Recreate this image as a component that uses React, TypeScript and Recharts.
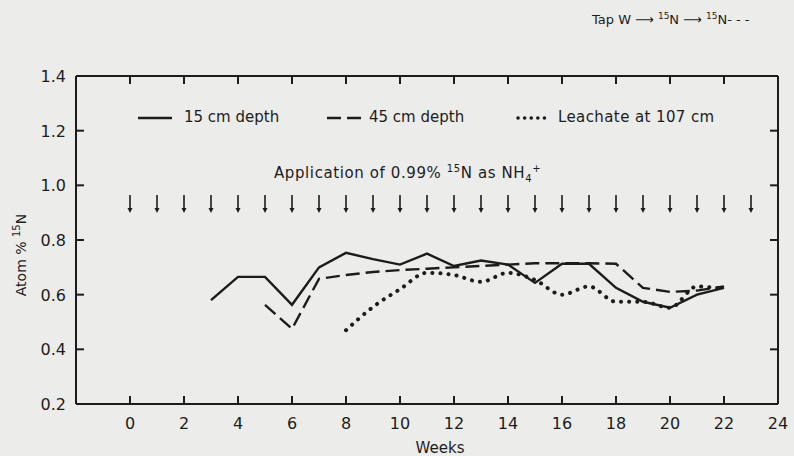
import { ComposedChart, Line, Scatter, XAxis, YAxis } from "recharts";

const FONT = "'DejaVu Sans', sans-serif";
const INK = "#1c1c1c";

// weeks & atom % 15N
const solidWeeks = [3, 4, 5, 6, 7, 8, 9, 10, 11, 12, 13, 14, 15, 16, 17, 18, 19, 20, 21, 22];
const solidValues = [0.58, 0.665, 0.665, 0.563, 0.7, 0.753, 0.73, 0.71, 0.75, 0.705, 0.725, 0.71, 0.643, 0.713, 0.713, 0.625, 0.574, 0.552, 0.6, 0.625];

const dashedWeeks = [5, 6, 7, 8, 9, 10, 11, 12, 13, 14, 15, 16, 17, 18, 19, 20, 21, 22];
const dashedValues = [0.563, 0.475, 0.658, 0.672, 0.683, 0.69, 0.695, 0.7, 0.705, 0.71, 0.715, 0.715, 0.715, 0.713, 0.625, 0.61, 0.615, 0.63];

const dottedWeeks = [8, 9, 10, 11, 12, 13, 14, 15, 16, 17, 18, 19, 20, 21, 22];
const dottedValues = [0.47, 0.555, 0.62, 0.68, 0.672, 0.647, 0.68, 0.654, 0.6, 0.63, 0.574, 0.574, 0.552, 0.63, 0.62];

// weekly 15N applications (arrows)
const applicationWeeks = [0, 1, 2, 3, 4, 5, 6, 7, 8, 9, 10, 11, 12, 13, 14, 15, 16, 17, 18, 19, 20, 21, 22, 23];
const arrowLevel = 0.965;

const xTicks = [0, 2, 4, 6, 8, 10, 12, 14, 16, 18, 20, 22, 24];
const yTicks = [0.2, 0.4, 0.6, 0.8, 1.0, 1.2, 1.4];

const toPoints = (weeks: number[], values: number[]) =>
  weeks.map((week, i) => ({ week, value: values[i] }));

const solid = toPoints(solidWeeks, solidValues);
const dashed = toPoints(dashedWeeks, dashedValues);
const dotted = toPoints(dottedWeeks, dottedValues);
const arrows = applicationWeeks.map((week) => ({ week, value: arrowLevel }));

const TICK_MARGIN = 8;
const TICK_LEN = 8;

function BottomTick(props: any) {
  const { x, y, payload } = props;
  const axisY = y - TICK_MARGIN;
  return (
    <g>
      {payload.value < 24 && (
        <line x1={x} x2={x} y1={axisY} y2={axisY - TICK_LEN} stroke={INK} strokeWidth={2} />
      )}
      <text x={x} y={y} dy={17} textAnchor="middle" fontSize={16} fontFamily={FONT} fill={INK}>
        {payload.value}
      </text>
    </g>
  );
}

function TopTick(props: any) {
  const { x, y, payload } = props;
  if (payload.value >= 24) return null;
  const axisY = y + TICK_MARGIN;
  return <line x1={x} x2={x} y1={axisY} y2={axisY + TICK_LEN} stroke={INK} strokeWidth={2} />;
}

function LeftTick(props: any) {
  const { x, y, payload } = props;
  const axisX = x + TICK_MARGIN;
  const inner = payload.value > 0.3 && payload.value < 1.3;
  return (
    <g>
      {inner && <line x1={axisX} x2={axisX + TICK_LEN} y1={y} y2={y} stroke={INK} strokeWidth={2} />}
      <text x={x - 2} y={y} dy={6} textAnchor="end" fontSize={16} fontFamily={FONT} fill={INK}>
        {payload.value.toFixed(1)}
      </text>
    </g>
  );
}

function RightTick(props: any) {
  const { x, y, payload } = props;
  if (payload.value < 0.3 || payload.value > 1.3) return null;
  const axisX = x - TICK_MARGIN;
  return <line x1={axisX} x2={axisX - TICK_LEN} y1={y} y2={y} stroke={INK} strokeWidth={2} />;
}

function ArrowShape(props: any) {
  const { cx, cy } = props;
  return (
    <g>
      <line x1={cx} x2={cx} y1={cy} y2={cy + 15} stroke={INK} strokeWidth={1.6} />
      <polygon points={`${cx - 2.5},${cy + 13} ${cx + 2.5},${cy + 13} ${cx},${cy + 18}`} fill={INK} />
    </g>
  );
}

const text: React.CSSProperties = {
  position: "absolute",
  fontFamily: FONT,
  color: INK,
  fontSize: 15,
  whiteSpace: "nowrap",
  lineHeight: 1,
};

export default function App() {
  return (
    <div style={{ position: "absolute", left: 0, top: 0, width: 794, height: 456, background: "#ececea" }}>
      <ComposedChart
        width={794}
        height={456}
        margin={{ top: 66, right: 6, bottom: 22, left: 16 }}
      >
        <XAxis
          xAxisId="bottom"
          dataKey="week"
          type="number"
          domain={[-2, 24]}
          ticks={xTicks}
          interval={0}
          allowDataOverflow
          height={30}
          tickSize={0}
          tickMargin={TICK_MARGIN}
          tickLine={false}
          tick={<BottomTick />}
          axisLine={{ stroke: INK, strokeWidth: 2 }}
        />
        <XAxis
          xAxisId="top"
          orientation="top"
          dataKey="week"
          type="number"
          domain={[-2, 24]}
          ticks={xTicks}
          interval={0}
          allowDataOverflow
          height={10}
          tickSize={0}
          tickMargin={TICK_MARGIN}
          tickLine={false}
          tick={<TopTick />}
          axisLine={{ stroke: INK, strokeWidth: 2 }}
        />
        <YAxis
          yAxisId="left"
          dataKey="value"
          type="number"
          domain={[0.2, 1.4]}
          ticks={yTicks}
          interval={0}
          allowDataOverflow
          width={60}
          tickSize={0}
          tickMargin={TICK_MARGIN}
          tickLine={false}
          tick={<LeftTick />}
          axisLine={{ stroke: INK, strokeWidth: 2 }}
        />
        <YAxis
          yAxisId="right"
          orientation="right"
          dataKey="value"
          type="number"
          domain={[0.2, 1.4]}
          ticks={yTicks}
          interval={0}
          allowDataOverflow
          width={10}
          tickSize={0}
          tickMargin={TICK_MARGIN}
          tickLine={false}
          tick={<RightTick />}
          axisLine={{ stroke: INK, strokeWidth: 2 }}
        />
        <Line
          xAxisId="bottom"
          yAxisId="left"
          data={solid}
          dataKey="value"
          type="linear"
          stroke={INK}
          strokeWidth={2.4}
          dot={false}
          isAnimationActive={false}
        />
        <Line
          xAxisId="bottom"
          yAxisId="left"
          data={dashed}
          dataKey="value"
          type="linear"
          stroke={INK}
          strokeWidth={2.4}
          strokeDasharray="14 6"
          dot={false}
          isAnimationActive={false}
        />
        <Line
          xAxisId="bottom"
          yAxisId="left"
          data={dotted}
          dataKey="value"
          type="monotone"
          stroke={INK}
          strokeWidth={4}
          strokeLinecap="round"
          strokeDasharray="0.1 8"
          dot={false}
          isAnimationActive={false}
        />
        <Scatter
          xAxisId="top"
          yAxisId="right"
          data={arrows}
          dataKey="value"
          shape={<ArrowShape />}
          isAnimationActive={false}
        />
      </ComposedChart>

      {/* legend */}
      <svg style={{ position: "absolute", left: 136, top: 112 }} width={40} height={12}>
        <line x1={2} x2={36} y1={6} y2={6} stroke={INK} strokeWidth={2.4} />
      </svg>
      <div style={{ ...text, left: 184, top: 110 }}>15 cm depth</div>
      <svg style={{ position: "absolute", left: 325, top: 112 }} width={40} height={12}>
        <line x1={2} x2={38} y1={6} y2={6} stroke={INK} strokeWidth={2.4} strokeDasharray="14 6" />
      </svg>
      <div style={{ ...text, left: 369, top: 110 }}>45 cm depth</div>
      <svg style={{ position: "absolute", left: 515, top: 112 }} width={34} height={12}>
        <line x1={3} x2={32} y1={6} y2={6} stroke={INK} strokeWidth={3.5} strokeLinecap="round" strokeDasharray="0.1 6.5" />
      </svg>
      <div style={{ ...text, left: 558, top: 110, letterSpacing: 0.4 }}>Leachate at 107 cm</div>

      {/* annotation */}
      <div style={{ ...text, left: 274, top: 164, letterSpacing: 0.6 }}>
        Application of 0.99% <sup style={{ fontSize: 10 }}>15</sup>N as NH<sub style={{ fontSize: 10 }}>4</sub>
        <sup style={{ fontSize: 10 }}>+</sup>
      </div>

      {/* header note */}
      <div style={{ ...text, left: 592, top: 12, fontSize: 13 }}>
        Tap W ⟶ <sup style={{ fontSize: 9 }}>15</sup>N ⟶ <sup style={{ fontSize: 9 }}>15</sup>N- - -
      </div>

      {/* axis titles */}
      <div
        style={{
          ...text,
          left: 20,
          top: 255,
          transform: "translate(-50%, -50%) rotate(-90deg)",
          fontSize: 14,
        }}
      >
        Atom % <sup style={{ fontSize: 10 }}>15</sup>N
      </div>
      <div style={{ ...text, left: 440, top: 448, transform: "translate(-50%, -50%)", fontSize: 15 }}>
        Weeks
      </div>
    </div>
  );
}
